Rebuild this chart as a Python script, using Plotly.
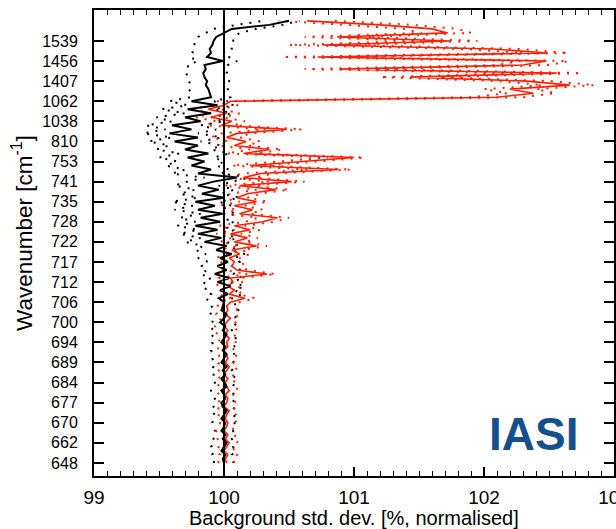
import plotly.graph_objects as go
import numpy as np

# channel axis labels (wavenumbers, cm-1), one every 5 channels
tick_labels = ["648", "662", "670", "677", "684", "689", "694", "700", "706", "712", "717",
               "722", "728", "735", "741", "753", "810", "1038", "1062", "1407", "1456", "1539"]
channels = np.arange(111)

black_mean = [
    100.00, 99.99, 100.01, 99.98, 100.00, 100.02, 99.99, 100.01, 99.98, 100.00,
    100.01, 99.98, 100.00, 100.02, 99.99, 99.98, 100.01, 100.00, 99.98, 100.02,
    100.00, 99.98, 100.01, 99.99, 100.02, 99.98, 100.00, 100.02, 99.99, 100.01,
    99.98, 100.00, 100.02, 99.99, 100.01, 99.97, 100.00, 100.02, 99.98, 99.99,
    100.00, 99.96, 100.03, 99.97, 100.05, 99.95, 100.04, 99.93, 100.02, 99.95,
    100.03, 99.97, 100.06, 99.94, 100.02, 99.85, 99.98, 99.80, 99.95, 99.78,
    99.97, 99.82, 99.99, 99.80, 99.93, 99.78, 100.00, 99.83, 99.96, 99.80,
    99.92, 100.10, 99.80, 99.90, 99.75, 99.85, 99.72, 99.88, 99.70, 99.80,
    99.62, 99.80, 99.58, 99.75, 99.60, 99.82, 99.70, 99.90, 99.72, 99.95,
    99.75, 99.90, 99.89, 99.88, 99.86, 99.87, 99.85, 99.84, 99.86, 99.85,
    99.99, 99.87, 99.90, 99.89, 99.91, 99.92, 99.94, 100.00, 100.06, 100.35, 100.50]

black_low = [
    99.92, 99.93, 99.91, 99.92, 99.90, 99.93, 99.92, 99.91, 99.93, 99.92,
    99.91, 99.92, 99.93, 99.90, 99.92, 99.91, 99.93, 99.92, 99.90, 99.92,
    99.93, 99.91, 99.92, 99.90, 99.92, 99.93, 99.91, 99.92, 99.90, 99.92,
    99.91, 99.93, 99.90, 99.92, 99.89, 99.91, 99.92, 99.90, 99.88, 99.91,
    99.89, 99.86, 99.90, 99.85, 99.88, 99.84, 99.90, 99.82, 99.87, 99.83,
    99.88, 99.80, 99.86, 99.78, 99.84, 99.70, 99.82, 99.66, 99.80, 99.64,
    99.78, 99.66, 99.82, 99.62, 99.76, 99.60, 99.80, 99.66, 99.78, 99.62,
    99.72, 99.85, 99.60, 99.70, 99.55, 99.64, 99.50, 99.66, 99.48, 99.58,
    99.42, 99.60, 99.38, 99.55, 99.40, 99.60, 99.48, 99.70, 99.52, 99.72,
    99.58, 99.74, 99.75, 99.73, 99.72, 99.74, 99.72, 99.71, 99.73, 99.72,
    99.80, 99.74, 99.76, 99.75, 99.77, 99.78, 99.80, 99.86, 99.92, 100.10, 100.30]

black_high = [
    100.07, 100.08, 100.06, 100.09, 100.07, 100.08, 100.06, 100.08, 100.07, 100.09,
    100.08, 100.06, 100.09, 100.07, 100.08, 100.06, 100.09, 100.07, 100.08, 100.07,
    100.08, 100.07, 100.09, 100.06, 100.08, 100.07, 100.09, 100.08, 100.06, 100.08,
    100.07, 100.09, 100.08, 100.06, 100.10, 100.07, 100.09, 100.08, 100.11, 100.07,
    100.10, 100.06, 100.14, 100.08, 100.16, 100.05, 100.15, 100.07, 100.13, 100.06,
    100.12, 100.08, 100.16, 100.05, 100.12, 100.02, 100.10, 100.00, 100.08, 99.98,
    100.08, 99.98, 100.10, 99.97, 100.06, 99.96, 100.12, 99.98, 100.08, 99.96,
    100.06, 100.20, 99.98, 100.04, 99.94, 100.00, 99.92, 100.04, 99.90, 99.98,
    99.82, 99.98, 99.80, 99.94, 99.82, 100.00, 99.90, 100.06, 99.92, 100.08,
    99.92, 100.05, 100.04, 100.03, 100.02, 100.04, 100.03, 100.02, 100.04, 100.03,
    100.10, 100.04, 100.05, 100.06, 100.05, 100.07, 100.08, 100.12, 100.25, 100.45, 100.58]

red_mean = [
    100.02, 100.01, 100.03, 100.00, 100.02, 100.04, 100.01, 100.03, 100.00, 100.02,
    100.03, 100.01, 100.02, 100.04, 100.00, 100.02, 100.03, 100.01, 100.04, 100.02,
    100.01, 100.03, 100.00, 100.02, 100.04, 100.01, 100.03, 100.02, 100.00, 100.03,
    100.02, 100.04, 100.01, 100.03, 100.00, 100.02, 100.05, 100.01, 100.03, 100.02,
    100.05, 100.16, 100.04, 100.08, 100.03, 100.07, 100.05, 100.33, 100.10, 100.06,
    100.08, 100.04, 100.12, 100.06, 100.25, 100.08, 100.18, 100.05, 100.20, 100.08,
    100.30, 100.41, 100.12, 100.22, 100.08, 100.25, 100.10, 100.18, 100.40, 100.12,
    100.52, 100.15, 100.28, 100.88, 100.20, 100.60, 101.00, 100.15, 100.35, 100.08,
    100.17, 100.02, 100.10, 100.48, 99.98, 100.06, 99.90, 100.02, 99.88, 100.00,
    100.05, 102.10, 102.38, 102.20, 102.66, 102.33, 101.43, 102.56, 100.89, 102.30,
    102.48, 100.72, 102.49, 102.07, 100.76, 101.74, 100.87, 101.72, 101.60, 101.20, 100.64]

red_low = [
    99.96, 99.95, 99.97, 99.94, 99.96, 99.97, 99.95, 99.96, 99.94, 99.96,
    99.97, 99.95, 99.96, 99.98, 99.94, 99.96, 99.97, 99.95, 99.97, 99.96,
    99.95, 99.97, 99.94, 99.96, 99.98, 99.95, 99.97, 99.96, 99.94, 99.97,
    99.96, 99.97, 99.94, 99.96, 99.93, 99.95, 99.98, 99.94, 99.96, 99.95,
    99.97, 100.06, 99.95, 99.98, 99.94, 99.97, 99.96, 100.18, 100.00, 99.96,
    99.98, 99.94, 100.02, 99.95, 100.12, 99.97, 100.06, 99.94, 100.08, 99.96,
    100.16, 100.26, 100.00, 100.10, 99.96, 100.12, 99.98, 100.05, 100.25, 100.00,
    100.35, 100.02, 100.14, 100.65, 100.06, 100.42, 100.80, 100.02, 100.20, 99.96,
    100.04, 99.90, 99.98, 100.32, 99.86, 99.94, 99.78, 99.90, 99.76, 99.88,
    99.93, 101.90, 102.18, 102.00, 102.45, 102.12, 101.20, 102.35, 100.62, 102.10,
    102.28, 100.45, 102.30, 101.85, 100.50, 101.52, 100.62, 101.52, 101.38, 100.95, 100.42]

red_high = [
    100.08, 100.07, 100.10, 100.06, 100.09, 100.11, 100.07, 100.09, 100.06, 100.08,
    100.10, 100.07, 100.09, 100.11, 100.06, 100.08, 100.10, 100.07, 100.11, 100.09,
    100.07, 100.10, 100.06, 100.08, 100.11, 100.07, 100.10, 100.09, 100.06, 100.10,
    100.09, 100.11, 100.07, 100.10, 100.07, 100.09, 100.12, 100.08, 100.10, 100.09,
    100.12, 100.24, 100.11, 100.15, 100.10, 100.14, 100.12, 100.40, 100.18, 100.13,
    100.16, 100.12, 100.20, 100.14, 100.33, 100.16, 100.26, 100.13, 100.28, 100.16,
    100.38, 100.50, 100.20, 100.30, 100.16, 100.34, 100.18, 100.28, 100.50, 100.20,
    100.62, 100.24, 100.38, 100.98, 100.30, 100.72, 101.08, 100.25, 100.45, 100.18,
    100.28, 100.12, 100.20, 100.60, 100.08, 100.16, 100.00, 100.12, 99.98, 100.10,
    100.15, 102.30, 102.55, 102.40, 102.85, 102.52, 101.65, 102.75, 101.15, 102.50,
    102.65, 100.95, 102.65, 102.28, 101.00, 101.95, 101.10, 101.90, 101.80, 101.45, 100.85]

FONT = "Liberation Sans, Arial, Helvetica, sans-serif"
RED = "#ff1e00"

fig = go.Figure()
dot = "2px,7px"
fig.add_trace(go.Scatter(x=black_low, y=channels, mode="lines",
                         line=dict(color="black", width=2, dash=dot), showlegend=False))
fig.add_trace(go.Scatter(x=black_high, y=channels, mode="lines",
                         line=dict(color="black", width=2, dash=dot), showlegend=False))
fig.add_trace(go.Scatter(x=red_low, y=channels, mode="lines",
                         line=dict(color=RED, width=2, dash=dot), showlegend=False))
fig.add_trace(go.Scatter(x=red_high, y=channels, mode="lines",
                         line=dict(color=RED, width=2, dash=dot), showlegend=False))
fig.add_trace(go.Scatter(x=red_mean, y=channels, mode="lines",
                         line=dict(color=RED, width=1.6), showlegend=False))
fig.add_trace(go.Scatter(x=black_mean, y=channels, mode="lines",
                         line=dict(color="black", width=2), showlegend=False))

fig.add_shape(type="line", xref="x", yref="paper", x0=100, x1=100, y0=0, y1=1,
              line=dict(color="black", width=2), layer="above")

fig.update_layout(
    width=616, height=529,
    margin=dict(l=94, r=2, t=10, b=53, pad=0),
    paper_bgcolor="white", plot_bgcolor="white",
    font=dict(family=FONT, color="black"),
    xaxis=dict(range=[99, 103], tickvals=[99, 100, 101, 102, 103],
               ticks="inside", ticklen=9, tickwidth=1.5, tickcolor="black",
               minor=dict(dtick=0.1, ticks="inside", ticklen=5, tickwidth=1.2, tickcolor="black"),
               showline=True, linewidth=2, linecolor="black", mirror="allticks",
               showgrid=False, zeroline=False, tickfont=dict(size=19, family=FONT),
               ticklabeloverflow="allow", ticklabelstandoff=3, automargin=False),
    yaxis=dict(range=[-3.25, 112.7], tickvals=list(range(0, 110, 5)), ticktext=tick_labels,
               ticks="inside", ticklen=10, tickwidth=1.5, tickcolor="black",
               showline=True, linewidth=2, linecolor="black", mirror="allticks",
               showgrid=False, zeroline=False, tickfont=dict(size=16, family=FONT),
               ticklabelstandoff=11, automargin=False),
    annotations=[
        dict(text="Wavenumber [cm<sup>-1</sup>]", xref="paper", yref="paper",
             x=-0.138, y=0.522, textangle=-90, showarrow=False,
             font=dict(size=22.5, family=FONT), xanchor="center", yanchor="middle"),
        dict(text="Background std. dev. [%, normalised]", xref="paper", yref="paper",
             x=0.5, y=-0.09, showarrow=False, font=dict(size=20, family=FONT),
             xanchor="center", yanchor="middle"),
        dict(text="<b>IASI</b>", xref="paper", yref="paper", x=0.846, y=0.09,
             showarrow=False, font=dict(size=46, family=FONT, color="#15508c"),
             xanchor="center", yanchor="middle"),
    ],
)

fig.write_html("out.html")
